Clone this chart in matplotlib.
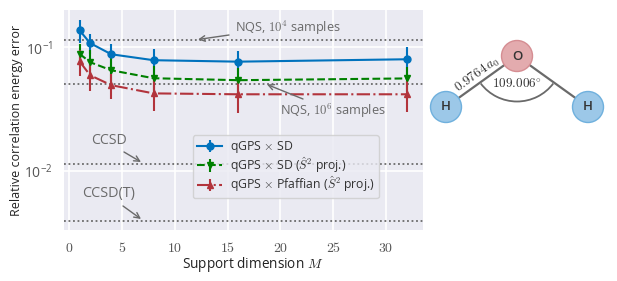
#!/usr/bin/env python3
"""Water molecule benchmark: qGPS energy errors against support dimension."""

import matplotlib

matplotlib.use("Agg")

import matplotlib.pyplot as plt
from matplotlib.patches import Arc, Circle

support_dim = [1, 2, 4, 8, 16, 32]

sd_err = [0.137, 0.108, 0.0878, 0.0786, 0.0765, 0.080]
sd_bar = [0.028, 0.020, 0.018, 0.018, 0.017, 0.020]
sd_proj_err = [0.0886, 0.0757, 0.0652, 0.0562, 0.0542, 0.056]
sd_proj_bar = [0.018, 0.019, 0.018, 0.015, 0.0134, 0.0128]
pf_err = [0.077, 0.0594, 0.0494, 0.0424, 0.0417, 0.0417]
pf_bar = [0.0186, 0.015, 0.0114, 0.012, 0.012, 0.0118]

reference_levels = [0.1139, 0.0503, 0.01149, 0.00392]

BLUE = "#0072bd"
GREEN = "#008000"
RED = "#b2343c"
GREY = "#6a6a6a"

plt.rcParams["font.family"] = ["Open Sans", "DejaVu Sans"]
plt.rcParams["mathtext.fontset"] = "cm"

fig = plt.figure(figsize=(6.17, 2.81), dpi=100)
ax = fig.add_axes([64 / 617, 1 - 230 / 281, (422.7 - 64) / 617, 220 / 281])
ax.set_facecolor("#eaeaf2")
for spine in ax.spines.values():
    spine.set_visible(False)
ax.grid(True, color="white", linewidth=1.2)
ax.set_axisbelow(True)

for level in reference_levels:
    ax.axhline(level, color=GREY, linestyle=(0, (1, 1.5)), linewidth=1.3, zorder=1.5)

ax.errorbar(support_dim, sd_err, yerr=sd_bar, color=BLUE, marker="o", markersize=5,
            linewidth=1.5, label=r"qGPS $\times$ SD")
ax.errorbar(support_dim, sd_proj_err, yerr=sd_proj_bar, color=GREEN, marker="v", markersize=5,
            linewidth=1.5, linestyle="--", label=r"qGPS $\times$ SD ($\hat{S}^2$ proj.)")
ax.errorbar(support_dim, pf_err, yerr=pf_bar, color=RED, marker="^", markersize=5,
            linewidth=1.5, linestyle="-.", label=r"qGPS $\times$ Pfaffian ($\hat{S}^2$ proj.)")

ax.set_yscale("log")
ax.set_xlim(-0.47, 33.46)
ax.set_ylim(0.00334, 0.2)
ax.set_xticks([0, 5, 10, 15, 20, 25, 30])
ax.set_xticklabels([f"${t}$" for t in [0, 5, 10, 15, 20, 25, 30]])
ax.minorticks_off()
ax.tick_params(length=0, labelsize=10, labelcolor="#555555", pad=8)
ax.set_xlabel(r"Support dimension $M$", fontsize=9.8, color="#222222", labelpad=0)
ax.xaxis.set_label_coords(0.525, -0.113)
ax.set_ylabel("Relative correlation energy error", fontsize=9.0, color="#222222", labelpad=4)
ax.yaxis.set_label_coords(-0.114, 0.5)

legend = ax.legend(loc="lower left", bbox_to_anchor=(129 / 358.7, 32 / 220), borderaxespad=0,
                   fontsize=8.8, facecolor="#eaeaf2", framealpha=0.8, edgecolor="#cccccc",
                   labelcolor="#333333", labelspacing=0.0, borderpad=0.3, handlelength=2.1,
                   handletextpad=0.65)

# full-figure overlay in pixels (y up) for annotations and the molecule
over = fig.add_axes([0, 0, 1, 1])
over.set_xlim(0, 617)
over.set_ylim(0, 281)
over.axis("off")
over.patch.set_alpha(0)

notes = [
    (r"NQS, $10^4$ samples", 9.2, 235, 253, (229, 246), (198, 241.5)),
    (r"NQS, $10^6$ samples", 9.2, 280, 170, (303, 182), (267, 196.5)),
    ("CCSD", 10.2, 91, 141, (124, 129), (141, 119)),
    ("CCSD(T)", 10.4, 82, 87, (123, 75), (141, 62)),
]
for label, size, tx, ty, start, end in notes:
    over.text(tx, ty, label, fontsize=size, color=GREY, va="center", ha="left")
    over.annotate("", xy=end, xytext=start,
                  arrowprops=dict(arrowstyle="->", color=GREY, linewidth=1,
                                  shrinkA=0, shrinkB=0))

oxygen = (517, 225)
hydrogens = [(446, 174), (588, 174)]

for pos in hydrogens:
    over.plot([oxygen[0], pos[0]], [oxygen[1], pos[1]], color=GREY, linewidth=1.6, zorder=1)
    over.add_patch(Circle(pos, 15.5, facecolor="#9cc8e8", edgecolor="#6fb0dd", linewidth=1, zorder=2))
    over.text(pos[0], pos[1], "H", fontsize=9.5, fontweight="semibold", color="#333333",
              ha="center", va="center", zorder=3)
over.add_patch(Circle(oxygen, 15.5, facecolor="#e3abae", edgecolor="#d58d92", linewidth=1, zorder=2))
over.text(oxygen[0], oxygen[1], "O", fontsize=9.5, fontweight="semibold", color="#333333",
          ha="center", va="center", zorder=3)

over.add_patch(Arc(oxygen, 91, 91, theta1=270 - 52.8, theta2=270 + 52.8, color=GREY, linewidth=1.3))
over.text(477, 206, r"$0.9764\,a_0$", fontsize=9.5, color="#333333", rotation=36,
          ha="center", va="center")
over.text(517, 197, r"$109.006^{\circ}$", fontsize=9.5, color="#333333", ha="center", va="center")

fig.savefig("out.png", dpi=100)
